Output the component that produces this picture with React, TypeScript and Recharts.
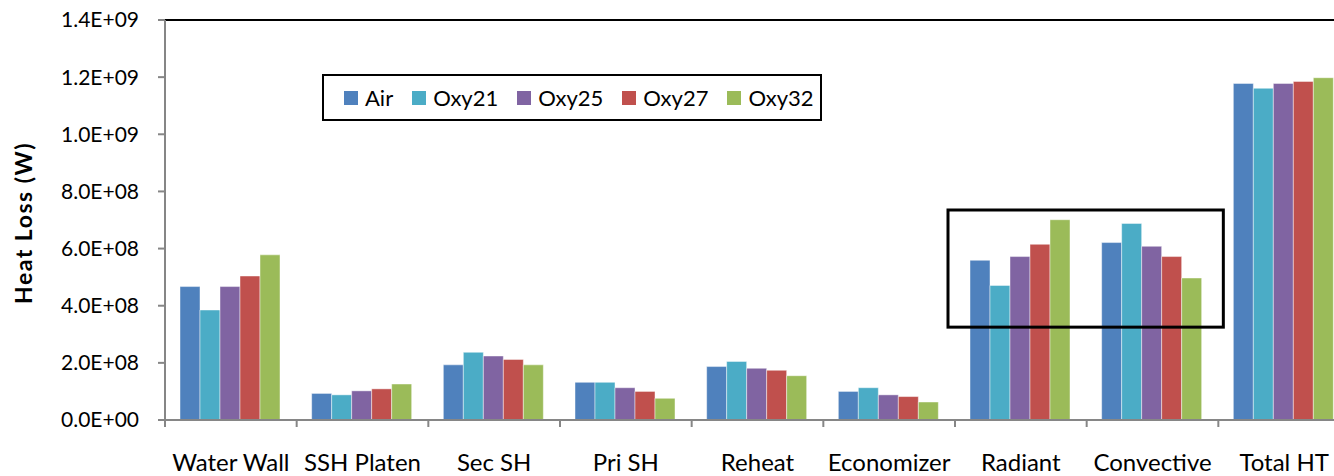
import React from "react";
import {
  BarChart,
  Bar,
  XAxis,
  YAxis,
  Legend,
  ReferenceArea,
  ReferenceLine,
  Label
} from "recharts";

const categories = [
  "Water Wall",
  "SSH Platen",
  "Sec SH",
  "Pri SH",
  "Reheat",
  "Economizer",
  "Radiant",
  "Convective",
  "Total HT"
];

const air = [4.67e8, 0.93e8, 1.93e8, 1.32e8, 1.87e8, 1.0e8, 5.59e8, 6.21e8, 1.178e9];
const oxy21 = [3.85e8, 0.88e8, 2.37e8, 1.32e8, 2.05e8, 1.13e8, 4.71e8, 6.88e8, 1.161e9];
const oxy25 = [4.67e8, 1.02e8, 2.24e8, 1.13e8, 1.81e8, 0.88e8, 5.72e8, 6.08e8, 1.178e9];
const oxy27 = [5.04e8, 1.09e8, 2.12e8, 1.0e8, 1.74e8, 0.82e8, 6.15e8, 5.72e8, 1.185e9];
const oxy32 = [5.78e8, 1.26e8, 1.93e8, 0.76e8, 1.55e8, 0.63e8, 7.01e8, 4.97e8, 1.198e9];

const yTicks = [0, 2e8, 4e8, 6e8, 8e8, 1.0e9, 1.2e9, 1.4e9];

// highlighted group (Radiant + Convective), value range of the box
const boxCats = ["Radiant", "Convective"];
const boxRange = [3.25e8, 7.35e8];

const series = [
  { key: "air", name: "Air", color: "#4F81BD", values: air },
  { key: "oxy21", name: "Oxy21", color: "#4BACC6", values: oxy21 },
  { key: "oxy25", name: "Oxy25", color: "#8064A2", values: oxy25 },
  { key: "oxy27", name: "Oxy27", color: "#C0504D", values: oxy27 },
  { key: "oxy32", name: "Oxy32", color: "#9BBB59", values: oxy32 }
];

const data = categories.map((name, i) => {
  const row: Record<string, string | number> = { name };
  series.forEach((s) => {
    row[s.key] = s.values[i];
  });
  return row;
});

const CHART_W = 1360;
const CHART_H = 476;
const MARGIN = { top: 20, right: 10, left: 0, bottom: 6 };
const Y_AXIS_W = 165;
const BAND = (CHART_W - MARGIN.left - MARGIN.right - Y_AXIS_W) / categories.length;
const FONT = "Lato, 'Open Sans', sans-serif";
const AXIS_GREY = "#868686";

const formatSci = (v: number) => {
  if (v === 0) return "0.0E+00";
  const exp = Math.floor(Math.log10(v) + 1e-9);
  const mant = v / Math.pow(10, exp);
  return `${mant.toFixed(1)}E+${String(exp).padStart(2, "0")}`;
};

const CategoryTick = (props: any) => {
  const { x, y, payload } = props;
  const edge = x - BAND / 2;
  return (
    <g>
      <line x1={edge} x2={edge} y1={y} y2={y + 7} stroke={AXIS_GREY} strokeWidth={2} />
      <text x={x} y={y + 51} textAnchor="middle" fontSize={24} fill="#000" fontFamily={FONT}>
        {payload.value}
      </text>
    </g>
  );
};

// the hand-drawn box in the original sits a little wider than the two groups
const BoxShape = (props: any) => {
  const { x, y, width, height } = props;
  return (
    <rect
      x={x - 7}
      y={y}
      width={width + 12}
      height={height}
      fill="none"
      stroke="#000"
      strokeWidth={3}
    />
  );
};

const renderLegend = () => (
  <div
    style={{
      width: 500,
      height: 47,
      boxSizing: "border-box",
      border: "2px solid #000",
      background: "#fff",
      display: "flex",
      alignItems: "center",
      paddingLeft: 20,
      fontFamily: FONT
    }}
  >
    {series.map((s) => (
      <div key={s.key} style={{ display: "flex", alignItems: "center", marginRight: 19 }}>
        <span style={{ width: 14, height: 14, background: s.color, marginRight: 7, display: "inline-block" }} />
        <span style={{ fontSize: 22, color: "#000" }}>{s.name}</span>
      </div>
    ))}
  </div>
);

export default function App() {
  return (
    <div
      style={{
        position: "absolute",
        left: 0,
        top: 0,
        width: 1334,
        height: 476,
        overflow: "hidden",
        background: "#fff"
      }}
    >
      <BarChart
        width={CHART_W}
        height={CHART_H}
        data={data}
        margin={MARGIN}
        barCategoryGap={15}
        barGap={0}
        style={{ fontFamily: FONT }}
      >
        <XAxis
          dataKey="name"
          height={50}
          tickLine={false}
          tickSize={0}
          tickMargin={0}
          interval={0}
          axisLine={{ stroke: AXIS_GREY, strokeWidth: 2 }}
          tick={<CategoryTick />}
        />
        <YAxis
          width={Y_AXIS_W}
          domain={[0, 1.4e9]}
          ticks={yTicks}
          tickFormatter={formatSci}
          axisLine={{ stroke: AXIS_GREY, strokeWidth: 2 }}
          tickLine={{ stroke: AXIS_GREY, strokeWidth: 2 }}
          tickSize={7}
          tickMargin={19}
          tick={{ fill: "#000", fontSize: 21, fontFamily: FONT }}
        >
          <Label
            content={({ viewBox }: any) => {
              const cx = viewBox.x + 23;
              const cy = viewBox.y + viewBox.height / 2 + 3;
              return (
                <text
                  x={cx}
                  y={cy}
                  transform={`rotate(-90, ${cx}, ${cy})`}
                  textAnchor="middle"
                  dominantBaseline="central"
                  fontSize={23}
                  fontWeight="bold"
                  letterSpacing={1.5}
                  fill="#000"
                  fontFamily={FONT}
                >
                  Heat Loss (W)
                </text>
              );
            }}
          />
        </YAxis>
        <ReferenceLine y={1.4e9} stroke="#000" strokeWidth={2} />
        {series.map((s) => (
          <Bar
            key={s.key}
            dataKey={s.key}
            name={s.name}
            fill={s.color}
            stroke="rgba(255,255,255,0.45)"
            strokeWidth={1}
            isAnimationActive={false}
          />
        ))}
        <ReferenceArea
          x1={boxCats[0]}
          x2={boxCats[1]}
          y1={boxRange[0]}
          y2={boxRange[1]}
          ifOverflow="visible"
          shape={<BoxShape />}
          {...({ zIndex: 1000 } as any)}
        />
        <Legend
          layout="horizontal"
          verticalAlign="middle"
          align="center"
          width={500}
          wrapperStyle={{ left: 322, top: 74, width: 500 }}
          content={renderLegend}
        />
      </BarChart>
    </div>
  );
}
